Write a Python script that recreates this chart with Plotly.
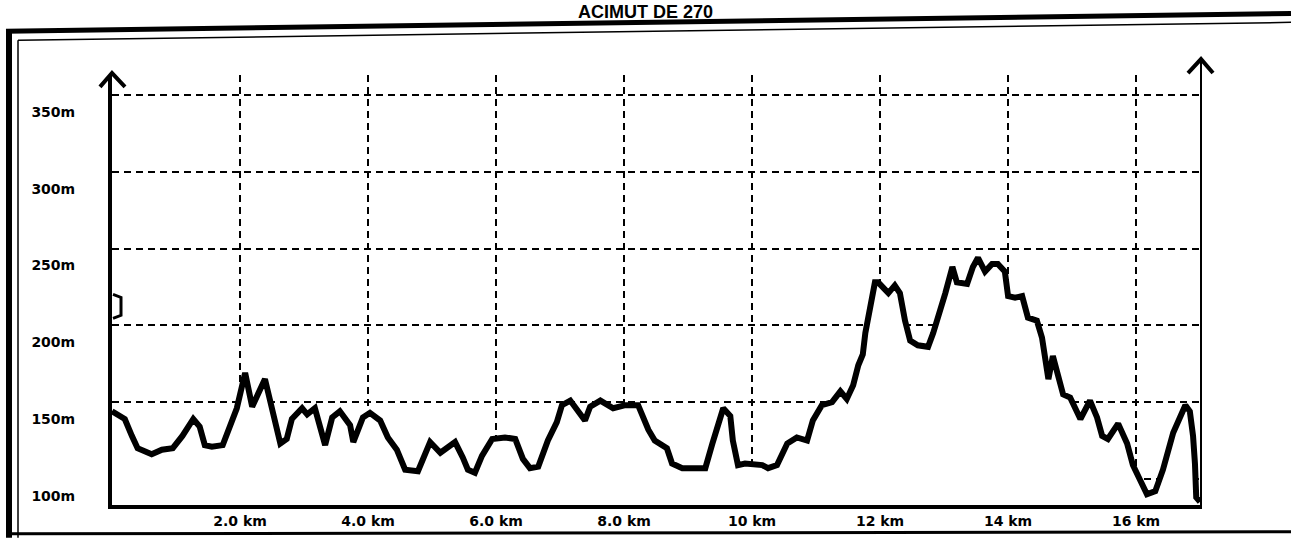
import plotly.graph_objects as go

x_km = [0.00, 0.05, 0.20, 0.31, 0.40, 0.62, 0.78, 0.95, 1.10, 1.27, 1.37, 1.45, 1.56, 1.73,
        1.84, 1.95, 2.08, 2.19, 2.39, 2.50, 2.63, 2.73, 2.81, 2.97, 3.05, 3.17, 3.33, 3.44,
        3.56, 3.72, 3.77, 3.92, 4.03, 4.19, 4.31, 4.45, 4.58, 4.78, 4.86, 4.97, 5.13, 5.36,
        5.48, 5.56, 5.67, 5.78, 5.94, 6.14, 6.30, 6.42, 6.53, 6.66, 6.81, 6.95, 7.03, 7.16,
        7.39, 7.47, 7.63, 7.83, 8.02, 8.22, 8.38, 8.48, 8.67, 8.75, 8.91, 9.27, 9.38, 9.55,
        9.66, 9.70, 9.78, 9.89, 10.16, 10.25, 10.39, 10.55, 10.70, 10.86, 10.95, 11.09, 11.25,
        11.38, 11.48, 11.58, 11.66, 11.73, 11.77, 11.84, 11.92, 11.97, 12.13, 12.23, 12.31,
        12.39, 12.47, 12.59, 12.75, 12.83, 12.94, 13.02, 13.13, 13.20, 13.36, 13.45, 13.53,
        13.64, 13.75, 13.84, 13.95, 14.00, 14.11, 14.22, 14.31, 14.45, 14.53, 14.58, 14.63,
        14.70, 14.78, 14.86, 14.97, 15.13, 15.28, 15.39, 15.47, 15.56, 15.72, 15.86, 15.95,
        16.09, 16.17, 16.30, 16.42, 16.58, 16.69, 16.77, 16.84, 16.89, 16.92, 16.94, 17.00]
elev_m = [144, 143, 139, 128, 120, 116, 119, 120, 128, 139, 134, 122, 121, 122,
          133, 146, 169, 147, 165, 147, 123, 126, 139, 146, 142, 146, 122, 140,
          144, 135, 124, 140, 143, 138, 127, 119, 106, 105, 114, 124, 117, 124,
          114, 106, 104, 115, 126, 127, 126, 113, 107, 108, 125, 137, 148, 151,
          138, 147, 151, 146, 148, 148, 132, 125, 120, 110, 107, 107, 123, 146,
          141, 125, 109, 110, 109, 107, 109, 123, 127, 125, 138, 148, 150,
          157, 152, 161, 174, 181, 195, 212, 228, 228, 221, 226, 221,
          203, 190, 187, 186, 195, 209, 221, 238, 228, 227, 238, 244,
          235, 240, 240, 235, 219, 218, 219, 205, 203, 192, 177, 165,
          180, 168, 155, 153, 139, 151, 140, 128, 126, 136, 123, 109,
          97, 90, 92, 106, 130, 140, 148, 144, 128, 110, 88, 85]

y_ticks = [100, 150, 200, 250, 300, 350]
y_tick_labels = ["100m", "150m", "200m", "250m", "300m", "350m"]
x_ticks = [2, 4, 6, 8, 10, 12, 14, 16]
x_tick_labels = ["2.0 km", "4.0 km", "6.0 km", "8.0 km", "10 km", "12 km", "14 km", "16 km"]
title_text = "ACIMUT DE 270"

X_RANGE = [0, 17.03]
Y_RANGE = [83, 363]

# layout geometry (pixels)
W, H = 1291, 541
L, R, T, B = 112, 1202, 75, 508


def P(px, py):
    return (px - L) / (R - L), (B - py) / (B - T)


def path(points):
    s = ""
    for i, (px, py) in enumerate(points):
        x, y = P(px, py)
        s += ("M" if i == 0 else " L") + f" {x:.5f} {y:.5f}"
    return s


def seg(p0, p1, width):
    x0, y0 = P(*p0)
    x1, y1 = P(*p1)
    return dict(type="line", xref="paper", yref="paper", x0=x0, y0=y0, x1=x1, y1=y1,
                line=dict(color="black", width=width))


fig = go.Figure(go.Scatter(
    x=x_km, y=elev_m, mode="lines",
    line=dict(color="black", width=6),
    fill="tozeroy", fillcolor="white",
    hoverinfo="skip", showlegend=False,
))

tickfont = dict(family="DejaVu Sans", size=14, color="black", weight="bold")

fig.update_xaxes(
    range=X_RANGE, tickvals=x_ticks, ticktext=x_tick_labels,
    showgrid=True, gridcolor="black", gridwidth=1.5, griddash="7px,5px",
    showline=True, linecolor="black", linewidth=4, zeroline=False,
    ticks="", tickfont=tickfont, layer="above traces",
)
fig.update_yaxes(
    range=Y_RANGE, tickvals=y_ticks, ticktext=y_tick_labels,
    showgrid=True, gridcolor="black", gridwidth=1.5, griddash="7px,5px",
    showline=True, linecolor="black", linewidth=4, zeroline=False,
    ticks="", tickfont=tickfont, ticklabelshift=17, ticklabelstandoff=30,
    layer="above traces",
)

shapes = []
# right vertical axis with arrow
shapes.append(dict(type="line", xref="x", yref="paper", x0=X_RANGE[1], x1=X_RANGE[1],
                   y0=0, y1=P(0, 60)[1], line=dict(color="black", width=4)))
shapes.append(dict(type="path", xref="paper", yref="paper",
                   path=path([(1188, 73), (1201, 59), (1213, 73)]),
                   line=dict(color="black", width=4)))
# left arrow head
shapes.append(dict(type="path", xref="paper", yref="paper",
                   path=path([(100, 87), (112, 73), (125, 87)]),
                   line=dict(color="black", width=4)))
# small bracket marker on left axis
shapes.append(dict(type="path", xref="paper", yref="paper",
                   path=path([(113, 296), (121, 299), (121, 317), (113, 320)]),
                   line=dict(color="black", width=3)))
# page frame
shapes.append(seg((6, 31), (1291, 13), 5))
shapes.append(seg((18, 40), (1291, 22), 1.5))
shapes.append(seg((9, 29), (9, 541), 6))
shapes.append(seg((18, 40), (18, 541), 1.5))
shapes.append(seg((6, 537), (1291, 535), 3))

tx, ty = P(645, 0)
fig.update_layout(
    width=W, height=H,
    margin=dict(l=L, r=W - R, t=T, b=H - B, pad=0),
    paper_bgcolor="white", plot_bgcolor="white",
    shapes=shapes,
    annotations=[dict(text=title_text, xref="paper", yref="paper", x=tx, y=ty,
                      xanchor="center", yanchor="top", showarrow=False, borderpad=0,
                      font=dict(family="Liberation Sans", size=18, color="black", weight="bold"))],
)

fig.write_html("out.html", config={"displayModeBar": False},
               post_script="document.body.style.margin='0';document.body.style.overflow='hidden';")
